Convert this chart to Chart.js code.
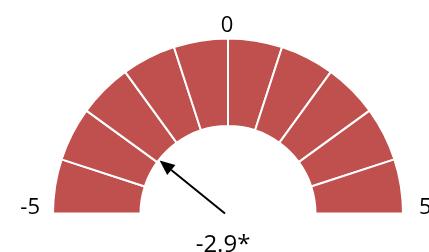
<!DOCTYPE html>
<html>
<head>
<meta charset="utf-8">
<script src="https://cdn.jsdelivr.net/npm/chart.js@4.4.1/dist/chart.umd.min.js"></script>
<style>
	html, body { margin: 0; padding: 0; background: #fff; overflow: hidden; }
</style>
</head>
<body>
<canvas id="chartGauge" width="429" height="252"></canvas>
<script>
'use strict'

// gauge bands, each one unit wide, from -5 to 5
const bandLabels = ['-5..-4', '-4..-3', '-3..-2', '-2..-1', '-1..0', '0..1', '1..2', '2..3', '3..4', '4..5'];
const bandWidths = [1, 1, 1, 1, 1, 1, 1, 1, 1, 1];
const scaleMin = -5;
const scaleMax = 5;
const tickValues = [-5, 0, 5];
const tickLabels = ['-5', '0', '5'];
const markerValue = -2.9;
const markerLabel = '-2.9*';

const colors = {
	band: '#C0504D',
	border: '#FFFFFF',
	text: '#000000',
	arrow: '#000000',
};

const fontFamily = '"Open Sans", "Noto Sans", sans-serif';

let gaugeLabels = {
	id: 'gaugeLabels',
	afterDatasetsDraw: function(chart){
		const meta = chart.getDatasetMeta(0);
		const first = meta.data[0];
		const last = meta.data[meta.data.length - 1];
		const cx = first.x;
		const cy = first.y;
		const outer = first.outerRadius;
		const inner = first.innerRadius;
		const start = first.startAngle;
		const end = last.endAngle;

		function angleOf(v){
			return start + (v - scaleMin) / (scaleMax - scaleMin) * (end - start);
		}

		const ctx = chart.ctx;
		ctx.save();
		ctx.fillStyle = colors.text;
		ctx.font = '22px ' + fontFamily;

		// scale labels at the ends and top
		tickValues.forEach(function(v, i){
			const a = angleOf(v);
			if(v === scaleMin){
				ctx.textAlign = 'right';
				ctx.textBaseline = 'alphabetic';
				ctx.fillText(tickLabels[i], cx + Math.cos(a) * (outer + 13), cy);
			}
			else if(v === scaleMax){
				ctx.textAlign = 'left';
				ctx.textBaseline = 'alphabetic';
				ctx.fillText(tickLabels[i], cx + Math.cos(a) * (outer + 16), cy);
			}
			else {
				ctx.textAlign = 'center';
				ctx.textBaseline = 'alphabetic';
				ctx.fillText(tickLabels[i], cx + Math.cos(a) * (outer + 7) - 1, cy + Math.sin(a) * (outer + 7));
			}
		});

		// arrow pointing at the marker value
		const a = angleOf(markerValue);
		const tipX = cx + Math.cos(a) * (inner - 1);
		const tipY = cy + Math.sin(a) * (inner - 1);
		const tailX = cx - 3;
		const tailY = cy;
		const dir = Math.atan2(tipY - tailY, tipX - tailX);
		const headLen = 15;
		const headHalf = 6.5;
		const baseX = tipX - Math.cos(dir) * headLen;
		const baseY = tipY - Math.sin(dir) * headLen;

		ctx.strokeStyle = colors.arrow;
		ctx.lineWidth = 2;
		ctx.beginPath();
		ctx.moveTo(tailX, tailY);
		ctx.lineTo(baseX, baseY);
		ctx.stroke();

		ctx.fillStyle = colors.arrow;
		ctx.beginPath();
		ctx.moveTo(tipX, tipY);
		ctx.lineTo(baseX + Math.sin(dir) * headHalf, baseY - Math.cos(dir) * headHalf);
		ctx.lineTo(baseX - Math.sin(dir) * headHalf, baseY + Math.cos(dir) * headHalf);
		ctx.closePath();
		ctx.fill();

		// marker value label below the arrow tail
		ctx.font = '24px ' + fontFamily;
		ctx.textAlign = 'center';
		ctx.textBaseline = 'alphabetic';
		ctx.fillText(markerLabel, cx - 5, cy + 38);
		ctx.restore();
	},
};

let chartGauge = new Chart(document.getElementById('chartGauge'), {
	type: 'doughnut',
	data: {
		labels: bandLabels,
		datasets: [
			{
				data: bandWidths,
				backgroundColor: colors.band,
				borderColor: colors.border,
				borderWidth: 2,
			},
		],
	},
	options: {
		responsive: false,
		animation: false,
		rotation: -90,
		circumference: 180,
		cutout: '50%',
		radius: 175,
		layout: {
			padding: { left: 27, right: 0, top: 0, bottom: 0 },
		},
		plugins: {
			legend: { display: false },
			tooltip: { enabled: false },
		},
	},
	plugins: [gaugeLabels],
});
</script>
</body>
</html>
